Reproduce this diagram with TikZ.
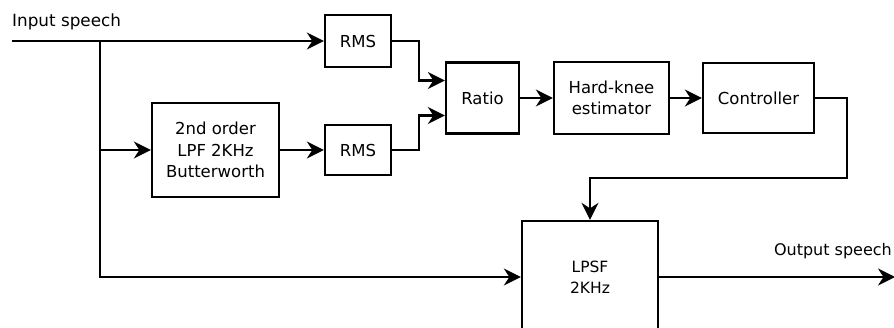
\documentclass[tikz,border=0pt]{standalone}
\usepackage{fontspec}
\setmainfont{DejaVu Sans}
\usetikzlibrary{arrows.meta}
\begin{document}
\begin{tikzpicture}[x=1pt,y=-1pt,
  box/.style={draw, line width=2.3pt, inner sep=0pt, align=center,
    font=\fontsize{16.5}{21.5}\selectfont},
  wire/.style={line width=2.3pt},
  arrow/.style={wire, -{Stealth[length=17pt,width=17pt,inset=5.5pt]}},
  label/.style={inner sep=0pt, font=\fontsize{16.8}{19}\selectfont}]
  \clip (0,0) rectangle (894,328);
  \useasboundingbox (0,0) rectangle (894,328);

  % processing blocks
  \node[box, minimum width=66pt, minimum height=52pt]  (rms1)  at (358,41)   {RMS};
  \node[box, minimum width=127pt, minimum height=94pt] (lpf)   at (215.5,150) {2nd order\\LPF 2KHz\\Butterworth};
  \node[box, minimum width=66pt, minimum height=50pt]  (rms2)  at (358,150)  {RMS};
  \node[box, minimum width=73pt, minimum height=71pt]  (ratio) at (482.5,98) {Ratio};
  \node[box, minimum width=115pt, minimum height=72pt] (hk)    at (611.5,98) {Hard-knee\\estimator};
  \node[box, minimum width=111pt, minimum height=70pt] (ctrl)  at (758.5,98) {Controller};
  \node[box, minimum width=136pt, minimum height=112pt,
        font=\fontsize{15.5}{21}\selectfont]            (lpsf)  at (590,277)  {LPSF\\2KHz};

  % signal labels
  \node[label, anchor=base west] (inlbl)  at (12,27)  {Input speech};
  \node[label, anchor=base east, font=\fontsize{16}{19}\selectfont]
        (outlbl) at (892,256) {Output speech};

  % helper points
  \coordinate (in)   at (12,41);
  \coordinate (tap)  at (100,41);
  \coordinate (bend) at (847,178);
  \coordinate (out)  at (895,277);

  % input path and branches
  \draw[arrow] (in) -- (rms1.west);
  \draw[wire]  (tap) -- (tap |- lpf.west);
  \draw[arrow] (tap |- lpf.west) -- (lpf.west);
  \draw[arrow] (tap |- lpf.west) |- (lpsf.west);
  \draw[arrow] (lpf.east) -- (rms2.west);

  % RMS outputs into the ratio block
  \draw[arrow] (rms1.east) -- ++(27,0) |- ([yshift=17.5pt]ratio.west);
  \draw[arrow] (rms2.east) -- ++(27,0) |- ([yshift=-17.5pt]ratio.west);

  % control chain
  \draw[arrow] (ratio.east) -- (hk.west);
  \draw[arrow] (hk.east) -- (ctrl.west);
  \draw[arrow] (ctrl.east) -| (bend) -| (lpsf.north);

  % output
  \draw[arrow] (lpsf.east) -- (out);
\end{tikzpicture}
\end{document}
